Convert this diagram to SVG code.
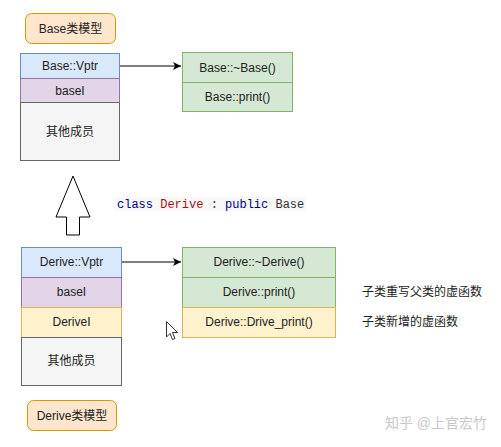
<svg xmlns="http://www.w3.org/2000/svg" width="501" height="447" viewBox="0 0 501 447">
<style>
text{font-family:"Liberation Sans","Noto Sans CJK SC",Arial,sans-serif;font-size:12px;fill:#222;text-anchor:middle;dominant-baseline:central}
.lab{fill:#ffe6cc;stroke:#d79b00;stroke-width:1}
.blue{fill:#dae8fc;stroke:#6c8ebf}
.purple{fill:#e1d5e7;stroke:#9673a6}
.gray{fill:#f5f5f5;stroke:#666666}
.green{fill:#d5e8d4;stroke:#82b366}
.yellow{fill:#fff2cc;stroke:#d6b656}
.note{text-anchor:start}
.code{font-family:"Liberation Mono","DejaVu Sans Mono",monospace;font-size:12px;text-anchor:start}
.conn{stroke:#000;stroke-width:1;fill:none}
</style>
<defs>
<marker id="ah" markerWidth="10" markerHeight="8" refX="8" refY="4" orient="auto" markerUnits="userSpaceOnUse">
<path d="M0,0 L8,4 L0,8 L2,4 Z" fill="#000"/>
</marker>
</defs>
<rect width="501" height="447" fill="#fff"/>

<g id="base-label">
<rect class="lab" x="25.5" y="13.5" width="90" height="30" rx="6"/>
<text x="70.5" y="28.5">Base类模型</text>
</g>

<g id="base-object">
<rect class="blue" x="20.5" y="53.5" width="99" height="25"/>
<text x="70" y="66">Base::Vptr</text>
<rect class="purple" x="20.5" y="78.5" width="99" height="24"/>
<text x="70" y="90.5">baseI</text>
<rect class="gray" x="20.5" y="102.5" width="99" height="58"/>
<text x="70" y="131.5">其他成员</text>
</g>

<g id="base-vtable">
<rect class="green" x="182.5" y="52.5" width="110" height="30"/>
<text x="237.5" y="67.5">Base::~Base()</text>
<rect class="green" x="182.5" y="82.5" width="110" height="29"/>
<text x="237.5" y="97">Base::print()</text>
</g>

<g id="inherit-arrow">
<path d="M73,176 L90,217 L79.5,217 L79.5,235 L66.5,235 L66.5,217 L56,217 Z" fill="#fff" stroke="#000" stroke-width="1"/>
</g>

<g id="code-label">
<rect x="114" y="197" width="192" height="14" fill="#f8f8f8"/>
<text class="code" x="117" y="204.5"><tspan fill="#000080">class</tspan> <tspan fill="#a31515">Derive</tspan> <tspan fill="#333">:</tspan> <tspan fill="#000080">public</tspan> <tspan fill="#333">Base</tspan></text>
</g>

<g id="derive-object">
<rect class="blue" x="21.5" y="247.5" width="100" height="30"/>
<text x="71.5" y="262">Derive::Vptr</text>
<rect class="purple" x="21.5" y="277.5" width="100" height="30"/>
<text x="71.5" y="292">baseI</text>
<rect class="yellow" x="21.5" y="307.5" width="100" height="30"/>
<text x="71.5" y="322">DeriveI</text>
<rect class="gray" x="21.5" y="337.5" width="100" height="48"/>
<text x="71.5" y="361">其他成员</text>
</g>

<g id="derive-vtable">
<rect class="green" x="182.5" y="247.5" width="153" height="30"/>
<text x="259" y="262">Derive::~Derive()</text>
<rect class="green" x="182.5" y="277.5" width="153" height="30"/>
<text x="259" y="292">Derive::print()</text>
<rect class="yellow" x="182.5" y="307.5" width="153" height="30"/>
<text x="259" y="322">Derive::Drive_print()</text>
</g>

<g id="derive-label">
<rect class="lab" x="27.5" y="400.5" width="89" height="30" rx="6"/>
<text x="72" y="415.5">Derive类模型</text>
</g>

<g id="notes">
<text class="note" x="362" y="292">子类重写父类的虚函数</text>
<text class="note" x="362" y="322">子类新增的虚函数</text>
</g>

<g id="connectors">
<line class="conn" x1="120" y1="66" x2="181" y2="66" marker-end="url(#ah)"/>
<line class="conn" x1="122" y1="262" x2="181" y2="262" marker-end="url(#ah)"/>
</g>

<g id="cursor">
<path d="M166.5,321.5 L166.5,337 L170,333.5 L172.5,339.5 L175,338.5 L172.5,332.5 L177.5,332.5 Z" fill="#fff" stroke="#333" stroke-width="1"/>
</g>

<g id="watermark">
<text x="436" y="423" style="font-size:14px;fill:#c8c8c8">知乎 @上官宏竹</text>
</g>
</svg>
